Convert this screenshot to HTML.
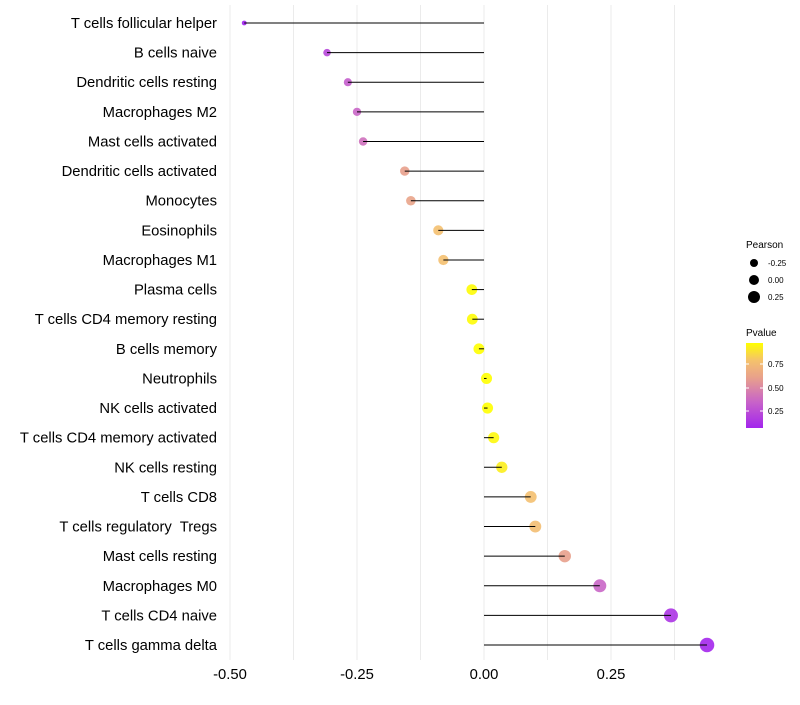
<!DOCTYPE html>
<html><head><meta charset="utf-8"><style>
body{margin:0;background:#fff;font-family:"Liberation Sans",sans-serif}
text{white-space:pre}
</style></head><body>
<svg id="chart" width="800" height="700" xmlns="http://www.w3.org/2000/svg">
<g id="grid"></g>
<g id="marks"></g>
<g id="ylabels"></g>
<g id="xlabels"></g>
<g id="legend"></g>
</svg>
<script>
const categories=["T cells follicular helper","B cells naive","Dendritic cells resting","Macrophages M2","Mast cells activated","Dendritic cells activated","Monocytes","Eosinophils","Macrophages M1","Plasma cells","T cells CD4 memory resting","B cells memory","Neutrophils","NK cells activated","T cells CD4 memory activated","NK cells resting","T cells CD8","T cells regulatory  Tregs","Mast cells resting","Macrophages M0","T cells CD4 naive","T cells gamma delta"];
const pearson=[-0.472,-0.309,-0.268,-0.250,-0.238,-0.156,-0.144,-0.090,-0.080,-0.024,-0.023,-0.010,0.005,0.007,0.019,0.035,0.092,0.101,0.159,0.228,0.368,0.439];
const pvalue=[0.05,0.22,0.32,0.36,0.40,0.60,0.62,0.78,0.78,0.96,0.96,0.97,0.97,0.97,0.95,0.92,0.78,0.77,0.60,0.36,0.14,0.08];
const xTicks=[-0.5,-0.25,0,0.25];
const xTickLabels=["-0.50","-0.25","0.00","0.25"];
const NS="http://www.w3.org/2000/svg";
const x=v=>484+v*508;
const y=i=>23+i*29.62;
const r=v=>Math.sqrt(6+51.6*(v+0.47));
function col(p){
 const stops=[[0.05,[160,32,240]],[0.35,[200,100,200]],[0.6,[232,160,140]],[0.78,[244,192,112]],[0.97,[255,255,0]]];
 if(p<=stops[0][0])return "rgb("+stops[0][1]+")";
 for(let k=1;k<stops.length;k++){if(p<=stops[k][0]){const a=stops[k-1],b=stops[k],t=(p-a[0])/(b[0]-a[0]);return "rgb("+a[1].map((c,j)=>Math.round(c+(b[1][j]-c)*t)).join(",")+")";}}
 return "rgb(255,255,0)";
}
function mk(tag,attrs,parent){const e=document.createElementNS(NS,tag);for(const k in attrs)e.setAttribute(k,attrs[k]);parent.appendChild(e);return e;}
const grid=document.getElementById('grid'),marks=document.getElementById('marks'),yl=document.getElementById('ylabels'),xl=document.getElementById('xlabels'),lg=document.getElementById('legend');
for(let v=-0.5;v<=0.376;v+=0.125){
 const g=mk('line',{x1:x(v),x2:x(v),y1:5,y2:660,stroke:'#ebebeb','stroke-width':1},grid);
 
 
}
categories.forEach((c,i)=>{
 const cy=y(i);
 const dot=mk('circle',{cx:x(pearson[i]),cy:cy,r:r(pearson[i]),fill:col(pvalue[i]),'fill-opacity':0.9},marks);
 
 
 const ln=mk('line',{x1:x(0),x2:x(pearson[i]),y1:cy,y2:cy,stroke:'#000','stroke-width':1},marks);
 
 
 const t=mk('text',{x:217,y:cy+5,'text-anchor':'end','font-size':14.8,fill:'#000'},yl);
 t.textContent=c;
 
 
});
xTicks.forEach((v,i)=>{
 const t=mk('text',{x:x(v),y:679,'text-anchor':'middle','font-size':14.8,fill:'#000'},xl);
 t.textContent=xTickLabels[i];
 
 
});
let t=mk('text',{x:746,y:248,'font-size':10,fill:'#000'},lg);t.textContent='Pearson';


[[-0.25,4,263],[0,5,280],[0.25,6,297]].forEach(a=>{
 const c=mk('circle',{cx:754,cy:a[2],r:a[1],fill:'#000'},lg);
 
 
 const tt=mk('text',{x:768,y:a[2]+3,'font-size':8,fill:'#000'},lg);tt.textContent=a[0]===0?'0.00':a[0].toFixed(2);
 
 
});
t=mk('text',{x:746,y:336,'font-size':10,fill:'#000'},lg);t.textContent='Pvalue';


const defs=mk('defs',{},lg);
const gr=mk('linearGradient',{id:'pg',x1:0,y1:1,x2:0,y2:0},defs);
for(let k=0;k<=10;k++){const p=0.07+k*0.09;mk('stop',{offset:k/10,'stop-color':col(p)},gr);}
const bar=mk('rect',{x:746,y:343,width:17,height:85,fill:'url(#pg)'},lg);


[[0.75,364],[0.5,388],[0.25,411]].forEach(a=>{
 mk('line',{x1:746,x2:749,y1:a[1],y2:a[1],stroke:'#fff'},lg);
 mk('line',{x1:760,x2:763,y1:a[1],y2:a[1],stroke:'#fff'},lg);
 const tt=mk('text',{x:768,y:a[1]+3,'font-size':8,fill:'#000'},lg);tt.textContent=a[0].toFixed(2);
 
 
});
</script>
</body></html>
